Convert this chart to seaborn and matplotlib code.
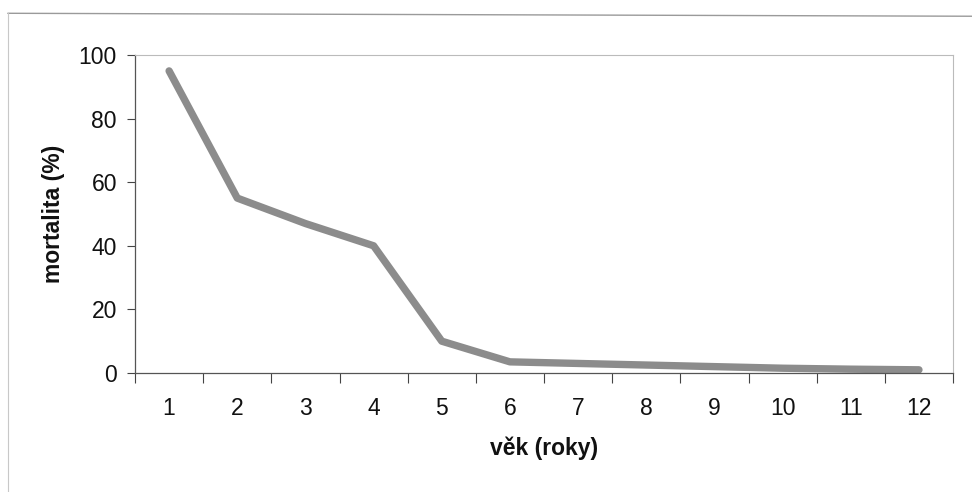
import matplotlib
matplotlib.use("Agg")
import matplotlib.pyplot as plt
import seaborn as sns
import pandas as pd
from matplotlib.lines import Line2D

# Age in years and mortality in percent
vek = [1, 2, 3, 4, 5, 6, 7, 8, 9, 10, 11, 12]
mortalita = [95, 55, 47, 40, 10, 3.5, 3, 2.5, 2, 1.5, 1.2, 1]
y_ticks = [0, 20, 40, 60, 80, 100]

df = pd.DataFrame({"vek": vek, "mortalita": mortalita})

sns.set_style("white", {"xtick.bottom": True, "ytick.left": True})
plt.rcParams["font.family"] = ["Liberation Sans", "DejaVu Sans"]

fig = plt.figure(figsize=(9.72, 4.92), dpi=100)
ax = fig.add_axes([0.1389, 0.2419, 0.8416, 0.6463])

sns.lineplot(data=df, x="vek", y="mortalita", ax=ax, color="#8c8c8c",
             linewidth=5.3, solid_capstyle="round", solid_joinstyle="round")

# Category labels sit between boundary ticks
ax.set_xticks(vek)
ax.set_xticklabels([str(v) for v in vek], fontsize=16.5)
ax.set_xticks([v - 0.5 for v in vek] + [12.5], minor=True)
ax.set_xlim(0.5, 12.5)
ax.set_ylim(0, 100)
ax.set_yticks(y_ticks)
ax.set_yticklabels([str(v) for v in y_ticks], fontsize=16.5)

ax.tick_params(axis="x", which="major", bottom=False, length=0, pad=17,
               labelcolor="#111111")
ax.tick_params(axis="x", which="minor", bottom=True, length=7, width=0.8,
               color="#444444", direction="out")
ax.tick_params(axis="y", which="major", left=True, length=6, width=0.8,
               color="#444444", direction="out", pad=7, labelcolor="#111111")

for s in ["left", "bottom"]:
    ax.spines[s].set_color("#555555")
    ax.spines[s].set_linewidth(0.9)
for s in ["top", "right"]:
    ax.spines[s].set_color("#bbbbbb")
    ax.spines[s].set_linewidth(0.8)
    ax.spines[s].set_linestyle((0, (2, 1)))

ax.set_xlabel("věk (roky)", fontsize=16.5, fontweight="bold", labelpad=12,
              color="#111111")
ax.set_ylabel("mortalita (%)", fontsize=16.5, fontweight="bold", labelpad=10,
              color="#111111")

# Outer chart frame
fig.add_artist(Line2D([0.008, 1.0], [0.973, 0.967], transform=fig.transFigure,
                      color="#9a9a9a", linewidth=1.0))
fig.add_artist(Line2D([0.008, 0.008], [0.0, 0.973], transform=fig.transFigure,
                      color="#c8c8c8", linewidth=0.8))

fig.savefig("out.png", dpi=100)
